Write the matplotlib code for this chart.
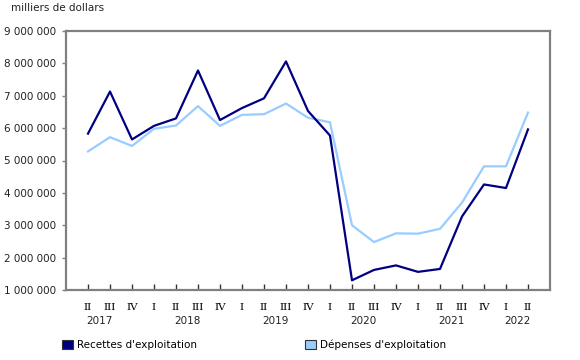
import matplotlib
matplotlib.use("Agg")
import matplotlib.pyplot as plt
from matplotlib.patches import Patch
from matplotlib.ticker import FuncFormatter

# quarters, 2017 Q2 -> 2022 Q2
quarters = ["II", "III", "IV",
            "I", "II", "III", "IV",
            "I", "II", "III", "IV",
            "I", "II", "III", "IV",
            "I", "II", "III", "IV",
            "I", "II"]
years = ["2017", "2018", "2019", "2020", "2021", "2022"]
year_pos = [0.5, 4.5, 8.5, 12.5, 16.5, 19.5]

# milliers de dollars
recettes = [5830000, 7130000, 5650000, 6070000, 6300000, 7780000, 6250000,
            6620000, 6920000, 8060000, 6530000, 5770000, 1300000, 1620000,
            1760000, 1560000, 1650000, 3270000, 4260000, 4150000, 5960000]
depenses = [5280000, 5720000, 5450000, 5980000, 6080000, 6680000, 6070000,
            6410000, 6430000, 6760000, 6320000, 6180000, 3000000, 2480000,
            2750000, 2740000, 2890000, 3700000, 4820000, 4820000, 6480000]

navy = "#000080"
light = "#99ccff"
gray = "#808080"

plt.rcParams["font.family"] = ["DejaVu Sans"]
fig = plt.figure(figsize=(5.8, 3.6), dpi=100)
ax = fig.add_axes([66/580, 1-290/360, (550-66)/580, (290-31)/360])

x = list(range(len(quarters)))
ax.plot(x, depenses, color=light, lw=1.6)
ax.plot(x, recettes, color=navy, lw=1.6)

ax.set_xlim(-1, len(quarters))
ax.set_ylim(1000000, 9000000)
ax.set_yticks(range(1000000, 9000001, 1000000))
ax.yaxis.set_major_formatter(FuncFormatter(lambda v, p: f"{int(v):,}".replace(",", " ")))

ax.set_xticks(x)
ax.set_xticklabels(quarters, family="DejaVu Serif", fontsize=7.5)
ax.tick_params(axis="x", direction="in", length=4, width=1, color="#333333", pad=9)
ax.tick_params(axis="y", direction="out", length=3, width=1, color=gray, labelsize=7.5, pad=4)
for lab in ax.get_yticklabels():
    lab.set_color("#222222")

for s in ax.spines.values():
    s.set_color(gray)
    s.set_linewidth(1.6)

for yr, xp in zip(years, year_pos):
    ax.text(xp, -0.12, yr, transform=ax.get_xaxis_transform(),
            ha="center", va="center", fontsize=7.5, color="#222222")

fig.text(11/580, 1-8/360, "milliers de dollars", fontsize=7.5, va="center", color="#222222")

handles = [Patch(facecolor=navy, edgecolor="#333333", lw=0.8, label="Recettes d'exploitation"),
           Patch(facecolor=light, edgecolor="#333333", lw=0.8, label="Dépenses d'exploitation")]
fig.legend(handles=handles, ncol=2, loc="center left", frameon=False,
           bbox_to_anchor=(58/580, 1-345/360), fontsize=7.5,
           handlelength=1.0, handleheight=1.0, handletextpad=0.4,
           columnspacing=10.4, borderaxespad=0)

fig.savefig("out.png", dpi=100)
